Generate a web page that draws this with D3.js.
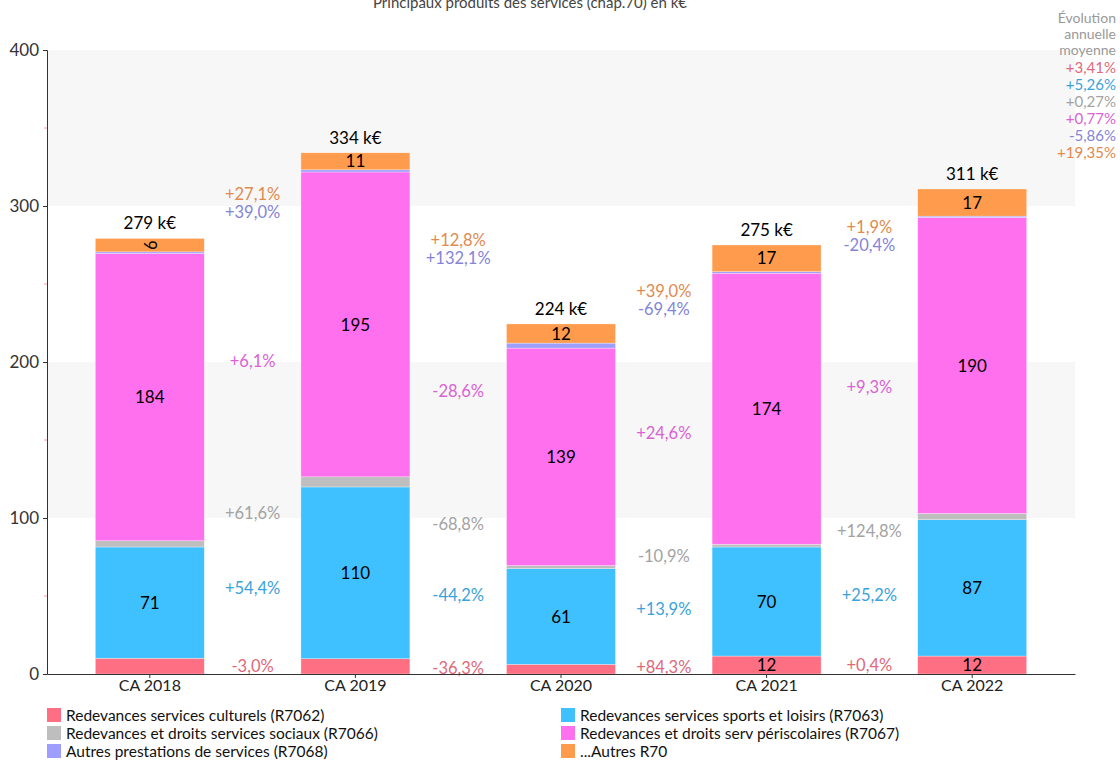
<!DOCTYPE html>
<html>
<head>
<meta charset="utf-8">
<script src="https://cdn.jsdelivr.net/npm/d3@7"></script>
<style>
  body { margin: 0; background: #fff; }
  svg { font-family: Lato, "Open Sans", sans-serif; }
</style>
</head>
<body>
<svg id="chart" width="1120" height="762"></svg>
<script>
// Data
const categories = ['CA 2018', 'CA 2019', 'CA 2020', 'CA 2021', 'CA 2022'];
const seriesNames = [
    'Redevances services culturels (R7062)',
    'Redevances services sports et loisirs (R7063)',
    'Redevances et droits services sociaux (R7066)',
    'Redevances et droits serv périscolaires (R7067)',
    'Autres prestations de services (R7068)',
    '...Autres R70'
];
const seriesColors = ['#ff6f83', '#3fc0ff', '#bebebe', '#ff70ef', '#9e9eff', '#ff9b4d'];
const labelColors = ['#e0687a', '#3aa2dc', '#a3a3a3', '#da62d4', '#8484d8', '#e08a4e'];

const culturels = [10.1, 9.8, 6.2, 11.5, 11.5];
const sports = [71.3, 110.1, 61.3, 69.9, 87.4];
const sociaux = [4.0, 6.5, 2.0, 1.8, 4.0];
const periscolaires = [184.2, 195.4, 139.4, 173.7, 189.8];
const autresPrestations = [1.0, 1.4, 3.2, 1.0, 0.8];
const autresR70 = [8.6, 10.9, 12.3, 17.1, 17.4];

// year to year evolutions, one list per series
const evoCulturels = ['-3,0%', '-36,3%', '+84,3%', '+0,4%'];
const evoSports = ['+54,4%', '-44,2%', '+13,9%', '+25,2%'];
const evoSociaux = ['+61,6%', '-68,8%', '-10,9%', '+124,8%'];
const evoPeriscolaires = ['+6,1%', '-28,6%', '+24,6%', '+9,3%'];
const evoAutresPrestations = ['+39,0%', '+132,1%', '-69,4%', '-20,4%'];
const evoAutresR70 = ['+27,1%', '+12,8%', '+39,0%', '+1,9%'];

const evoAnnuelle = ['+3,41%', '+5,26%', '+0,27%', '+0,77%', '-5,86%', '+19,35%'];
const yTicks = [0, 100, 200, 300, 400];

const seriesValues = [culturels, sports, sociaux, periscolaires, autresPrestations, autresR70];
const seriesEvo = [evoCulturels, evoSports, evoSociaux, evoPeriscolaires, evoAutresPrestations, evoAutresR70];

const svg = d3.select('#chart');
const plotLeft = 47, plotRight = 1075, plotTop = 50, plotBottom = 674;

const x = d3.scaleBand()
    .domain(categories)
    .range([plotLeft, plotRight])
    .padding(0);
const barW = x.bandwidth() * 0.53;

const y = d3.scaleLinear()
    .domain([0, 400])
    .range([plotBottom, plotTop]);

// alternate grey bands
[[100, 200], [300, 400]].forEach(b => {
    svg.append('rect')
        .attr('x', plotLeft)
        .attr('y', y(b[1]))
        .attr('width', plotRight - plotLeft)
        .attr('height', y(b[0]) - y(b[1]))
        .attr('fill', '#f7f7f7');
});

// stack
const rows = categories.map((c, i) => {
    const r = { cat: c };
    seriesValues.forEach((s, k) => r[k] = s[i]);
    return r;
});
const stack = d3.stack().keys(d3.range(seriesValues.length))(rows);

// Bars
const g = svg.append('g');
stack.forEach((layer, k) => {
    g.selectAll('.bar' + k)
        .data(layer)
        .enter()
        .append('rect')
        .attr('x', d => x(d.data.cat) + x.bandwidth() / 2 - barW / 2)
        .attr('y', d => y(d[1]))
        .attr('width', barW)
        .attr('height', d => y(d[0]) - y(d[1]))
        .attr('fill', seriesColors[k])
        .attr('stroke', '#ffffff')
        .attr('stroke-opacity', 0.5)
        .attr('stroke-width', 0.6);
});

// Segment labels
const defs = svg.append('defs');
stack.forEach((layer, k) => {
    layer.forEach((d, i) => {
        const h = y(d[0]) - y(d[1]);
        const cx = x(d.data.cat) + x.bandwidth() / 2;
        const cy = (y(d[0]) + y(d[1])) / 2;
        const val = Math.round(d[1] - d[0]);
        if (h >= 16.9) {
            g.append('text')
                .attr('x', cx)
                .attr('y', cy)
                .attr('dy', '0.36em')
                .attr('text-anchor', 'middle')
                .attr('font-size', 17)
                .attr('fill', '#000')
                .text(val);
        } else if (k === seriesValues.length - 1 && h > 10) {
            // too thin: rotated and clipped, like the original
            const id = 'clip' + i;
            defs.append('clipPath').attr('id', id)
                .append('rect')
                .attr('x', cx - barW / 2).attr('y', y(d[1]))
                .attr('width', barW).attr('height', h);
            g.append('g')
                .attr('clip-path', `url(#${id})`)
                .append('text')
                .attr('transform', `translate(${cx},${cy}) rotate(90)`)
                .attr('dy', '0.36em')
                .attr('text-anchor', 'middle')
                .attr('font-size', 17)
                .attr('fill', '#000')
                .text(val);
        }
    });
});

// Totals
rows.forEach((r, i) => {
    const total = d3.sum(seriesValues, s => s[i]);
    svg.append('text')
        .attr('x', x(r.cat) + x.bandwidth() / 2)
        .attr('y', y(total) - 9)
        .attr('text-anchor', 'middle')
        .attr('font-size', 17)
        .attr('fill', '#000')
        .text(Math.round(total) + ' k€');
});

// Evolution labels between bars
for (let i = 0; i < categories.length - 1; i++) {
    const gx = (x(categories[i]) + x(categories[i + 1]) + x.bandwidth()) / 2;
    const labs = stack.map((layer, k) => ({
        k: k,
        y: ((y(layer[i][0]) + y(layer[i][1])) / 2 + (y(layer[i + 1][0]) + y(layer[i + 1][1])) / 2) / 2
    }));
    labs.sort((a, b) => b.y - a.y);
    for (let j = 1; j < labs.length; j++) {
        if (labs[j].y > labs[j - 1].y - 18) labs[j].y = labs[j - 1].y - 18;
    }
    labs.forEach(l => {
        svg.append('text')
            .attr('x', gx)
            .attr('y', l.y)
            .attr('dy', '0.36em')
            .attr('text-anchor', 'middle')
            .attr('font-size', 16.5)
            .attr('fill', labelColors[l.k])
            .text(seriesEvo[l.k][i]);
    });
}

// Axes
const yAxis = svg.append('g')
    .attr('transform', `translate(${plotLeft},0)`)
    .call(d3.axisLeft(y).tickValues(yTicks).tickSize(4).tickPadding(4));
yAxis.select('.domain').attr('stroke', '#333');
yAxis.selectAll('.tick line').attr('stroke', '#333');
yAxis.selectAll('text').attr('font-size', 17).attr('fill', '#333').attr('font-family', 'Lato, sans-serif');

// minor ticks
svg.selectAll('.minor')
    .data([50, 150, 250, 350])
    .enter()
    .append('line')
    .attr('x1', plotLeft - 3).attr('x2', plotLeft)
    .attr('y1', d => y(d)).attr('y2', d => y(d))
    .attr('stroke', '#f4a0a8');

const xAxis = svg.append('g')
    .attr('transform', `translate(0,${plotBottom})`)
    .call(d3.axisBottom(x).tickSize(4).tickPadding(2).tickSizeOuter(0));
xAxis.select('.domain').attr('stroke', '#333');
xAxis.selectAll('.tick line').attr('stroke', '#333');
xAxis.selectAll('text').attr('font-size', 16).attr('fill', '#222').attr('font-family', 'Lato, sans-serif');

// Title
svg.append('text')
    .attr('x', 530)
    .attr('y', 8)
    .attr('text-anchor', 'middle')
    .attr('font-size', 15)
    .attr('fill', '#444')
    .text('Principaux produits des services (chap.70) en k€');

// Annual average evolution
const ann = svg.append('g').attr('text-anchor', 'end');
['Évolution', 'annuelle', 'moyenne'].forEach((t, i) => {
    ann.append('text')
        .attr('x', 1116)
        .attr('y', 23 + i * 16)
        .attr('font-size', 14)
        .attr('fill', '#999')
        .text(t);
});
evoAnnuelle.forEach((t, k) => {
    ann.append('text')
        .attr('x', 1116)
        .attr('y', 73 + k * 17)
        .attr('font-size', 15)
        .attr('fill', labelColors[k])
        .text(t);
});

// Legend
const legend = svg.append('g');
seriesNames.forEach((n, k) => {
    const col = k % 2, row = Math.floor(k / 2);
    const lx = col === 0 ? 47 : 561;
    const ly = 715 + row * 18;
    legend.append('rect')
        .attr('x', lx).attr('y', ly - 7)
        .attr('width', 14).attr('height', 14)
        .attr('fill', seriesColors[k]);
    legend.append('text')
        .attr('x', lx + 19)
        .attr('y', ly)
        .attr('dy', '0.36em')
        .attr('font-size', 15.5)
        .attr('fill', '#111')
        .text(n);
});
</script>
</body>
</html>
